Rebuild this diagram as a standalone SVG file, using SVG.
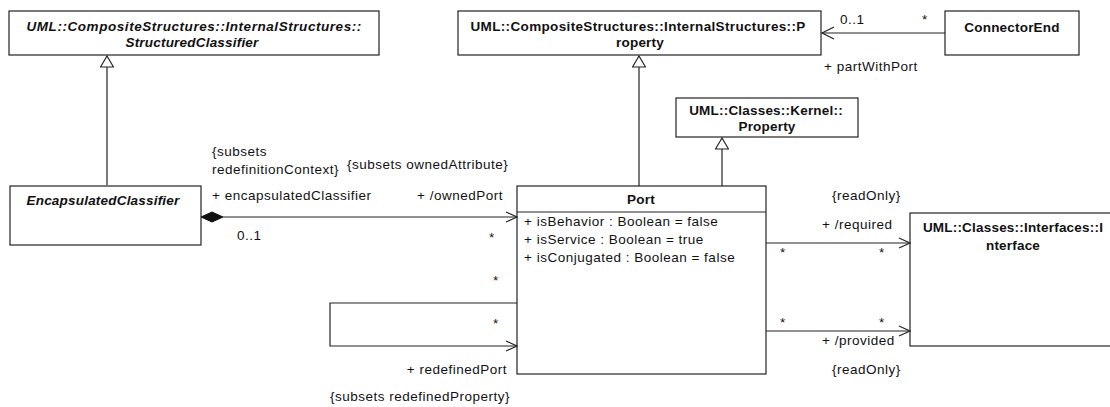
<svg xmlns="http://www.w3.org/2000/svg" width="1110" height="407" viewBox="0 0 1110 407">
  <style>
    .box { fill: #fff; stroke: #222; stroke-width: 1.2; }
    .line { fill: none; stroke: #222; stroke-width: 1.2; }
    .t { font-family: "Liberation Sans", Arial, sans-serif; font-size: 13.5px; fill: #111; letter-spacing: 0.5px; }
    .b { font-weight: bold; letter-spacing: 0.2px; }
    .i { font-style: italic; }
    .m { text-anchor: middle; }
    .e { text-anchor: end; }
  </style>
  <defs>
    <!-- hollow generalization triangle, apex on the line end -->
    <marker id="gen" markerWidth="14" markerHeight="14" refX="13" refY="7" orient="auto" markerUnits="userSpaceOnUse" viewBox="0 0 14 14">
      <path d="M13,7 L2,0.5 L2,13.5 Z" fill="#fff" stroke="#222" stroke-width="1.2"/>
    </marker>
  </defs>

  <g id="StructuredClassifier">
    <rect class="box" x="9" y="11" width="370" height="44"/>
    <text class="t b i m" x="194" y="31" textLength="335" lengthAdjust="spacing">UML::CompositeStructures::InternalStructures::</text>
    <text class="t b i m" x="192" y="47">StructuredClassifier</text>
  </g>

  <g id="CSProperty">
    <rect class="box" x="458" y="11" width="363" height="44"/>
    <text class="t b m" x="638" y="31" textLength="335" lengthAdjust="spacing">UML::CompositeStructures::InternalStructures::P</text>
    <text class="t b m" x="640" y="47">roperty</text>
  </g>

  <g id="ConnectorEnd">
    <rect class="box" x="945" y="11" width="134" height="44"/>
    <text class="t b m" x="1012" y="32">ConnectorEnd</text>
  </g>

  <g id="KernelProperty">
    <rect class="box" x="676" y="98" width="182" height="39"/>
    <text class="t b m" x="766" y="115">UML::Classes::Kernel::</text>
    <text class="t b m" x="767" y="131">Property</text>
  </g>

  <g id="EncapsulatedClassifier">
    <rect class="box" x="10" y="186" width="191" height="59"/>
    <text class="t b i m" x="103" y="205">EncapsulatedClassifier</text>
  </g>

  <g id="Port">
    <rect class="box" x="517" y="186" width="249" height="188"/>
    <line class="line" x1="517" y1="212" x2="766" y2="212"/>
    <text class="t b m" x="641" y="204">Port</text>
    <text class="t" x="524" y="226">+ isBehavior : Boolean = false</text>
    <text class="t" x="524" y="244">+ isService : Boolean = true</text>
    <text class="t" x="524" y="262">+ isConjugated : Boolean = false</text>
  </g>

  <g id="Interface">
    <rect class="box" x="910" y="213" width="210" height="133"/>
    <text class="t b m" x="1013" y="232">UML::Classes::Interfaces::I</text>
    <text class="t b m" x="1013" y="250">nterface</text>
  </g>

  <g id="connectors">
    <!-- generalizations -->
    <line class="line" x1="107" y1="185" x2="107" y2="56" marker-end="url(#gen)"/>
    <line class="line" x1="639" y1="186" x2="639" y2="56" marker-end="url(#gen)"/>
    <line class="line" x1="722" y1="186" x2="722" y2="138" marker-end="url(#gen)"/>

    <!-- partWithPort -->
    <line class="line" x1="945" y1="33" x2="822" y2="33"/>
    <path class="line" d="M834,27 L822,33 L834,39"/>

    <!-- ownedPort composition -->
    <path d="M201,217 L212,212 L223,217 L212,222 Z" fill="#111" stroke="#111" stroke-width="1"/>
    <line class="line" x1="223" y1="217" x2="517" y2="217"/>
    <path class="line" d="M506,212 L517,217 L506,222"/>

    <!-- required / provided -->
    <line class="line" x1="766" y1="243" x2="910" y2="243"/>
    <path class="line" d="M899,238 L910,243 L899,248"/>
    <line class="line" x1="766" y1="331" x2="910" y2="331"/>
    <path class="line" d="M899,326 L910,331 L899,336"/>

    <!-- redefinedPort self association -->
    <path class="line" d="M517,303 L330,303 L330,346 L517,346"/>
    <path class="line" d="M506,341 L517,346 L506,351"/>
  </g>

  <g id="labels">
    <text class="t" x="840" y="24">0..1</text>
    <text class="t" x="922" y="24">*</text>
    <text class="t" x="824" y="71">+ partWithPort</text>

    <text class="t" x="212" y="156">{subsets</text>
    <text class="t" x="212" y="174">redefinitionContext}</text>
    <text class="t" x="347" y="169">{subsets ownedAttribute}</text>
    <text class="t" x="212" y="200">+ encapsulatedClassifier</text>
    <text class="t" x="237" y="240">0..1</text>
    <text class="t e" x="503" y="200">+ /ownedPort</text>
    <text class="t" x="489" y="242">*</text>

    <text class="t" x="832" y="200">{readOnly}</text>
    <text class="t" x="822" y="229">+ /required</text>
    <text class="t" x="780" y="257">*</text>
    <text class="t" x="879" y="257">*</text>
    <text class="t" x="780" y="327">*</text>
    <text class="t" x="879" y="327">*</text>
    <text class="t" x="822" y="345">+ /provided</text>
    <text class="t" x="832" y="374">{readOnly}</text>

    <text class="t" x="493" y="285">*</text>
    <text class="t" x="493" y="328">*</text>
    <text class="t e" x="507" y="374">+ redefinedPort</text>
    <text class="t" x="330" y="401">{subsets redefinedProperty}</text>
  </g>
</svg>
